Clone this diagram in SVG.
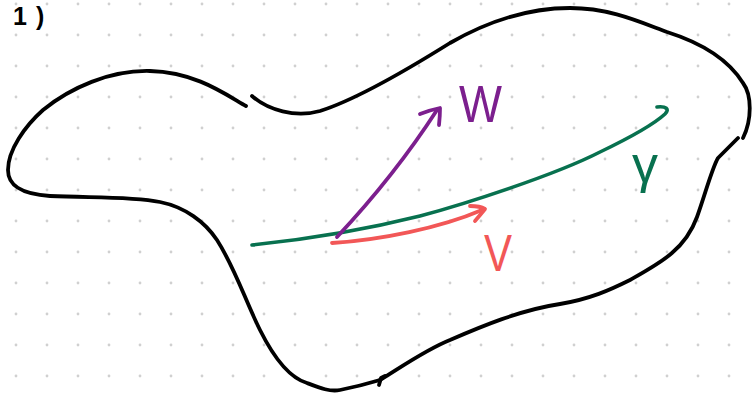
<svg xmlns="http://www.w3.org/2000/svg" width="752" height="394" viewBox="0 0 752 394">
  <defs>
    <pattern id="dots" x="0" y="0" width="31" height="31" patternUnits="userSpaceOnUse">
      <circle cx="16" cy="4" r="1.4" fill="#d0d0d0"/>
    </pattern>
  </defs>
  <style>
    .ink { fill: none; stroke-linecap: round; stroke-linejoin: round; }
    .black { stroke: #000000; stroke-width: 3.8; }
    .green { stroke: #08714f; stroke-width: 3.6; }
    .red { stroke: #f25757; stroke-width: 3.8; }
    .purple { stroke: #7c1f8e; stroke-width: 3.8; }
    .lbl { font-family: "Liberation Sans", Arial, sans-serif; }
  </style>
  <rect x="0" y="0" width="752" height="394" fill="#ffffff"/>
  <rect x="0" y="0" width="752" height="394" fill="url(#dots)"/>

  <g id="heading">
    <text class="lbl" x="13" y="25" font-size="25" font-weight="bold" fill="#000000">1<tspan dx="9">)</tspan></text>
  </g>

  <g id="region">
    <path class="ink black" d="M246,106 C225,94 195,72 150,71 C110,70 70,88 43,110 C25,126 8,150 8,170 C8,185 20,194 50,196 C90,198 130,196 160,202 C185,207 205,222 217,240 C235,268 245,300 260,330 C275,360 290,378 307,383 C320,388 330,392 340,390 C355,387 370,383 380,380"/>
    <path class="ink black" d="M379,385 L381,378 L385,376"/>
    <path class="ink black" d="M380,380 C400,368 425,350 450,340 C480,327 520,310 560,304 C590,299 610,290 630,280 C660,263 685,250 697,217 C705,195 712,168 718,158 L738,138"/>
    <path class="ink black" d="M743,138 C752,120 752,95 743,83 C730,62 705,44 667,32 C640,22 610,8 570,8 C530,8 490,20 450,43 C410,68 355,100 320,111 C295,118 268,110 252,96"/>
  </g>

  <g id="connectors">
    <g id="curve-gamma">
      <path class="ink green" d="M252,245 Q340,236 420,216 C465,204 555,175 600,152 C625,140 652,126 665,114 C670,109 666,106 657,107"/>
    </g>
    <g id="vector-v">
      <path class="ink red" d="M332,243 C380,240 440,228 482,210"/>
      <path class="ink red" d="M470,206 Q480,206 485,209 Q481,214 475,221"/>
    </g>
    <g id="vector-w">
      <path class="ink purple" d="M337,237 Q395,175 437,110"/>
      <path class="ink purple" d="M420,114 Q430,110 440,108 Q440,116 439,125"/>
    </g>
  </g>

  <g id="label-w">
    <text class="lbl" x="459" y="122" font-size="52" fill="#7c1f8e" textLength="43" lengthAdjust="spacingAndGlyphs">W</text>
  </g>
  <g id="label-v">
    <text class="lbl" x="484" y="271" font-size="52" fill="#f25757" textLength="28" lengthAdjust="spacingAndGlyphs">V</text>
  </g>
  <g id="label-gamma">
    <text class="lbl" x="632" y="182" font-size="52" fill="#08714f">γ</text>
  </g>
</svg>
